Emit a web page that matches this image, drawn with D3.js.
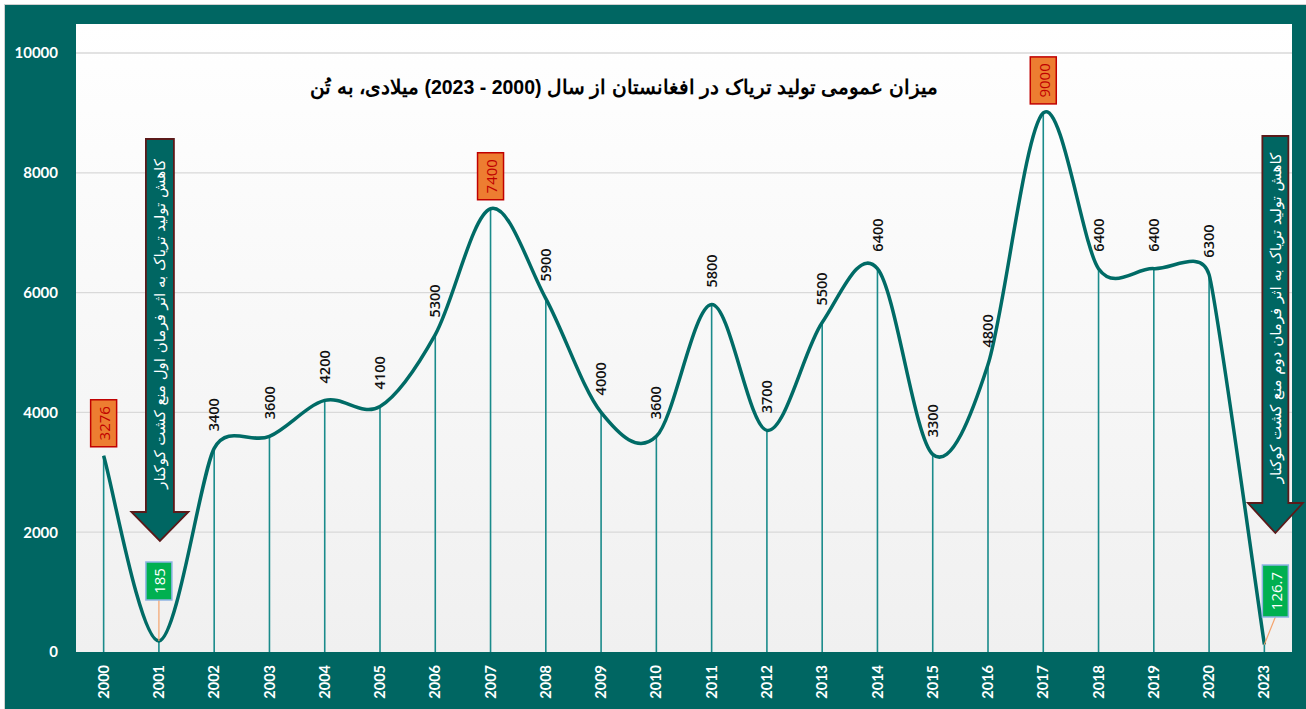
<!DOCTYPE html>
<html><head><meta charset="utf-8">
<script src="https://cdn.jsdelivr.net/npm/d3@7"></script>
<style>body{margin:0;background:#fff}svg{display:block}</style>
</head><body><svg id="c" width="1306" height="709"></svg>
<script>
const years = ["2000","2001","2002","2003","2004","2005","2006","2007","2008","2009","2010","2011","2012","2013","2014","2015","2016","2017","2018","2019","2020","2023"];
const values = [3276,185,3400,3600,4200,4100,5300,7400,5900,4000,3600,5800,3700,5500,6400,3300,4800,9000,6400,6400,6300,126.7];
const highYears = ["2000","2007","2017"];
const lowYears = ["2001","2023"];
const yTicks = [0,2000,4000,6000,8000,10000];
const title = "میزان عمومی تولید تریاک در افغانستان از سال (2000 - 2023) میلادی، به تُن";
const arrowTexts = ["کاهش تولید تریاک به اثر فرمان اول منع کشت کوکنار","کاهش تولید تریاک به اثر فرمان دوم منع کشت کوکنار"];
const arrowYears = ["2001","2023"];

const svg = d3.select("#c");
const TEAL = "#006662";
const plot = {l:76, r:1292, t:24, b:652};

svg.append("rect").attr("x",4.5).attr("y",4.5).attr("width",1306).attr("height",709)
  .attr("fill",TEAL).attr("stroke","#d0d0d0").attr("stroke-width",1);

const defs = svg.append("defs");
const g = defs.append("linearGradient").attr("id","bg").attr("x1",0).attr("x2",0).attr("y1",0).attr("y2",1);
g.append("stop").attr("offset","0%").attr("stop-color","#ffffff");
g.append("stop").attr("offset","100%").attr("stop-color","#f0f0f0");
svg.append("rect").attr("x",plot.l).attr("y",plot.t).attr("width",plot.r-plot.l).attr("height",plot.b-plot.t).attr("fill","url(#bg)");

const x = d3.scaleBand().domain(years).range([plot.l,plot.r]);
const cx = d => x(d)+x.bandwidth()/2;
const y = d3.scaleLinear().domain([0,10000]).range([652,53]);

// grid
svg.append("g").selectAll("line").data(yTicks.filter(d=>d>0)).join("line")
  .attr("x1",plot.l).attr("x2",plot.r).attr("y1",d=>y(d)).attr("y2",d=>y(d))
  .attr("stroke","#d9d9d9").attr("stroke-width",1.3);

// y axis labels
const ya = svg.append("g").attr("transform",`translate(${plot.l},0)`)
  .call(d3.axisLeft(y).tickValues(yTicks).tickSize(0).tickPadding(18).tickFormat(d3.format("d")));
ya.select(".domain").remove();
ya.selectAll("text").attr("fill","#fff").attr("font-family","Lato, 'Open Sans', sans-serif")
  .attr("font-weight","bold").attr("font-size",15);

// x axis labels
const xa = svg.append("g").attr("transform",`translate(0,${plot.b})`)
  .call(d3.axisBottom(x).tickSize(0));
xa.select(".domain").remove();
xa.selectAll("text").attr("fill","#fff").attr("font-family","Lato, 'Open Sans', sans-serif")
  .attr("font-weight","bold").attr("font-size",14.5)
  .attr("transform","rotate(-90)").attr("text-anchor","end").attr("x",-13).attr("y",0).attr("dy","0.35em");

// drop lines
svg.append("g").selectAll("line").data(years).join("line")
  .attr("x1",d=>cx(d)).attr("x2",d=>cx(d))
  .attr("y1",(d,i)=>y(values[i])).attr("y2",y(0))
  .attr("stroke","#1a8b8b").attr("stroke-width",1.6);

// Excel-style smoothed curve built from scaled points
const pts = values.map((v,i)=>[cx(years[i]), y(v)]);
function smoothPath(P){
  const p = d3.path();
  p.moveTo(P[0][0],P[0][1]);
  const dist=(a,b)=>Math.hypot(b[0]-a[0],b[1]-a[1]);
  function tangent(i){
    const a = P[Math.max(0,i-1)], b = P[i], c = P[Math.min(P.length-1,i+1)];
    const d02 = dist(a,c); if (d02===0) return [0,0];
    let len = d02/6;
    const d01 = dist(a,b), d12 = dist(b,c);
    if (i>0) len = Math.min(len, d01/2);
    if (i<P.length-1) len = Math.min(len, d12/2);
    return [(c[0]-a[0])/d02*len, (c[1]-a[1])/d02*len];
  }
  const T = P.map((_,i)=>tangent(i));
  for (let i=0;i<P.length-1;i++){
    const a=P[i], b=P[i+1];
    p.bezierCurveTo(a[0]+T[i][0], a[1]+T[i][1], b[0]-T[i+1][0], b[1]-T[i+1][1], b[0], b[1]);
  }
  return p.toString();
}
svg.append("path").attr("d",smoothPath(pts)).attr("fill","none")
  .attr("stroke","#006b66").attr("stroke-width",3.5);

// title
svg.append("text").attr("x",624).attr("y",94).attr("text-anchor","middle").attr("direction","rtl")
  .attr("font-family","'Liberation Sans', Arial, sans-serif").attr("font-weight","bold").attr("font-size",19.5)
  .attr("fill","#000").text(title);

// data labels
years.forEach((yr,i)=>{
  const v = values[i], px = cx(yr), py = y(v);
  if (highYears.includes(yr)) {
    const w=26,h=47;
    svg.append("rect").attr("x",px-w/2).attr("y",py-9-h).attr("width",w).attr("height",h)
      .attr("fill","#ed7d31").attr("stroke","#c00000").attr("stroke-width",1.5);
    svg.append("text").attr("transform",`translate(${px+1},${py-9-h/2}) rotate(-90)`)
      .attr("text-anchor","middle").attr("dy","0.35em").attr("fill","#c00000")
      .attr("font-family","'Open Sans', sans-serif").attr("font-size",15).text(d3.format("d")(v));
  } else if (lowYears.includes(yr)) {
    const w=26,h= yr==="2001"?38:52;
    const bx = yr==="2001"? px : px+11;
    const by = yr==="2001"? 562 : 565;
    svg.append("line").attr("x1",bx).attr("y1",by+h).attr("x2",px).attr("y2",py)
      .attr("stroke","#f4a36c").attr("stroke-width",1.2);
    svg.append("rect").attr("x",bx-w/2).attr("y",by).attr("width",w).attr("height",h)
      .attr("fill","#00b050").attr("stroke","#8eb4e3").attr("stroke-width",1.5);
    svg.append("text").attr("transform",`translate(${bx+1},${by+h/2}) rotate(-90)`)
      .attr("text-anchor","middle").attr("dy","0.35em").attr("fill","#fff")
      .attr("font-family","'Open Sans', sans-serif").attr("font-size",15).text(v);
  } else {
    svg.append("text").attr("transform",`translate(${px},${py-17}) rotate(-90)`)
      .attr("text-anchor","start").attr("dy","0.35em").attr("fill","#111").attr("font-weight",600)
      .attr("font-family","'Open Sans', sans-serif").attr("font-size",14.5).text(v);
  }
});

// arrows
const arrowSpecs = [{top:139, bodyW:28, headY:512, tip:541, headW:57, off:1, mid:324},
                    {top:136, bodyW:26, headY:503, tip:533, headW:55, off:11, mid:318}];
arrowYears.forEach((yr,i)=>{
  const s = arrowSpecs[i], c = cx(yr)+s.off;
  const p = d3.path();
  p.moveTo(c-s.bodyW/2,s.top); p.lineTo(c+s.bodyW/2,s.top); p.lineTo(c+s.bodyW/2,s.headY);
  p.lineTo(c+s.headW/2,s.headY); p.lineTo(c,s.tip); p.lineTo(c-s.headW/2,s.headY);
  p.lineTo(c-s.bodyW/2,s.headY); p.closePath();
  svg.append("path").attr("d",p.toString()).attr("fill",TEAL).attr("stroke","#5b1a1a").attr("stroke-width",1.8);
  svg.append("text").attr("transform",`translate(${c},${s.mid}) rotate(-90)`)
    .attr("direction","rtl").attr("text-anchor","middle").attr("dy","0.35em")
    .attr("fill","#fff").attr("font-family","'DejaVu Sans', sans-serif").attr("font-size",15)
    .text(arrowTexts[i]);
});
</script></body></html>
